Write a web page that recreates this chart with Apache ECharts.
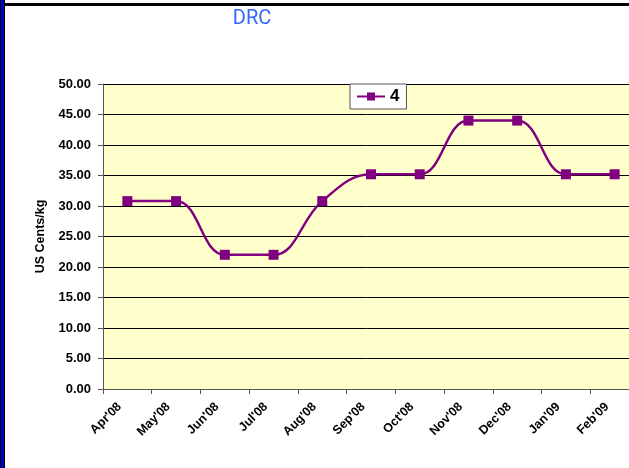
<!DOCTYPE html>
<html>
<head>
<meta charset="utf-8">
<script src="https://cdn.jsdelivr.net/npm/echarts@6/dist/echarts.min.js"></script>
<style>
  html, body { margin: 0; padding: 0; background: #fff; }
  #chart { width: 629px; height: 468px; }
</style>
</head>
<body>
<div id="chart"></div>
<script>
// data
var months = ["Apr'08", "May'08", "Jun'08", "Jul'08", "Aug'08", "Sep'08", "Oct'08", "Nov'08", "Dec'08", "Jan'09", "Feb'09"];
var values = [30.8, 30.8, 22.0, 22.0, 30.8, 35.2, 35.2, 44.0, 44.0, 35.2, 35.2];
var seriesName = '4';

var option = {
    backgroundColor: '#ffffff',
    animation: false,
    title: {
        text: 'DRC',
        left: 247,
        top: 4,
        textAlign: 'center',
        textStyle: {
            color: '#3366ff',
            fontFamily: 'Roboto',
            fontWeight: 'normal',
            fontSize: 20
        }
    },
    legend: {
        data: [seriesName],
        left: 350,
        top: 84,
        padding: [4, 7, 4, 6],
        backgroundColor: '#ffffff',
        borderColor: '#555555',
        borderWidth: 1,
        itemWidth: 28,
        itemHeight: 10,
        itemGap: 4,
        textStyle: {
            color: '#000',
            fontFamily: 'Liberation Sans',
            fontWeight: 'bold',
            fontSize: 17
        }
    },
    grid: {
        left: 103,
        top: 84,
        width: 536,
        bottom: 79,
        outerBoundsMode: 'none',
        containLabel: false,
        show: true,
        backgroundColor: '#ffffcc',
        borderWidth: 0
    },
    xAxis: {
        type: 'category',
        data: months,
        boundaryGap: true,
        axisLine: { lineStyle: { color: '#555555', width: 1 } },
        axisTick: { show: true, length: 5, lineStyle: { color: '#555555' } },
        axisLabel: {
            rotate: 45,
            color: '#000',
            fontFamily: 'Liberation Sans',
            fontWeight: 'bold',
            fontSize: 12.5,
            margin: 8,
            padding: [0, 11, 0, 0]
        }
    },
    yAxis: {
        type: 'value',
        min: 0,
        max: 50,
        interval: 5,
        name: 'US Cents/kg',
        nameLocation: 'middle',
        nameGap: 56,
        nameTextStyle: {
            color: '#000',
            fontFamily: 'Liberation Sans',
            fontWeight: 'bold',
            fontSize: 12.5
        },
        axisLine: { show: true, lineStyle: { color: '#555555' } },
        axisTick: { show: true, length: 5, lineStyle: { color: '#555555' } },
        axisLabel: {
            formatter: function (v) { return v.toFixed(2); },
            color: '#000',
            fontFamily: 'Liberation Sans',
            fontWeight: 'bold',
            fontSize: 13,
            margin: 12
        },
        splitLine: { show: true, lineStyle: { color: '#000000', width: 1 } }
    },
    series: [
        {
            name: seriesName,
            type: 'line',
            data: values,
            smooth: 0.4,
            symbol: 'rect',
            symbolSize: 10,
            lineStyle: { color: '#800080', width: 2.5 },
            itemStyle: { color: '#800080' }
        }
    ],
    graphic: [
        // frame lines round the slide
        { type: 'rect', shape: { x: 0, y: 0, width: 5, height: 468 }, style: { fill: '#000000' } },
        { type: 'rect', shape: { x: 1, y: 0, width: 3, height: 468 }, style: { fill: '#0000cc' } },
        { type: 'rect', shape: { x: 5, y: 3, width: 624, height: 3 }, style: { fill: '#000000' } }
    ]
};

var myChart = echarts.init(document.getElementById('chart'));
myChart.setOption(option);
</script>
</body>
</html>
